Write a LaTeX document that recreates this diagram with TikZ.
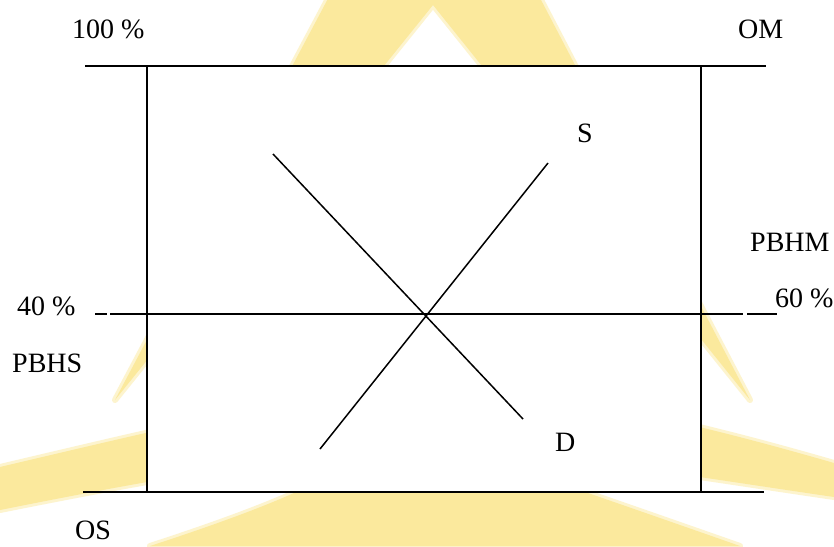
\documentclass[tikz,border=0pt]{standalone}
\usepackage{fontspec}
\setmainfont{Liberation Serif}
\definecolor{wm}{RGB}{251,233,157}
\definecolor{wmsoft}{RGB}{253,244,206}
\begin{document}
\begin{tikzpicture}[x=1pt,y=-1pt,
  lbl/.style={inner sep=0pt, anchor=base west, font=\fontsize{28}{34}\selectfont},
  rule/.style={line width=2pt, line cap=butt},
  boxline/.style={line width=1.7pt},
  midline/.style={line width=1.5pt},
  curveline/.style={line width=1.5pt}]
\useasboundingbox (0,0) rectangle (834,546);
\fill[white] (0,0) rectangle (834,546);
% watermark
\begin{scope}
  \clip (0,0) rectangle (834,546);
  \begin{scope}[draw=wmsoft, line width=6pt, line join=round]
  \filldraw[fill=wm] (435,-203) -- (750,400) -- (433,5) -- (115,400) -- cycle;
  \filldraw[fill=wm] (0,467) .. controls (200,420) and (300,395) .. (420,392)
    .. controls (540,390) and (650,410) .. (834,463) -- (834,497)
    .. controls (650,470) and (540,450) .. (420,452)
    .. controls (300,455) and (200,470) .. (0,510) -- cycle;
  \filldraw[fill=wm] (150,546) .. controls (230,520) and (290,497) .. (320,480)
    -- (550,480) .. controls (600,497) and (680,525) .. (740,546) -- cycle;
  \end{scope}
  \fill[wm] (435,-203) -- (750,400) -- (433,5) -- (115,400) -- cycle;
  \fill[wm] (0,467) .. controls (200,420) and (300,395) .. (420,392)
    .. controls (540,390) and (650,410) .. (834,463) -- (834,497)
    .. controls (650,470) and (540,450) .. (420,452)
    .. controls (300,455) and (200,470) .. (0,510) -- cycle;
  \fill[wm] (150,546) .. controls (230,520) and (290,497) .. (320,480)
    -- (550,480) .. controls (600,497) and (680,525) .. (740,546) -- cycle;
\end{scope}
% box interior
\fill[white] (147,66) rectangle (701,492);
% coordinates
\coordinate (tl) at (85,66);
\coordinate (tr) at (766,66);
\coordinate (bl) at (83,492);
\coordinate (br) at (764,492);
\coordinate (lt) at (147,66);
\coordinate (lb) at (147,492);
\coordinate (rt) at (701,66);
\coordinate (rb) at (701,492);
\coordinate (m1) at (95,314);
\coordinate (m2) at (107,314);
\coordinate (m3) at (110,314);
\coordinate (m4) at (743,314);
\coordinate (m5) at (747,314);
\coordinate (m6) at (777,314);
\coordinate (d1) at (273,154);
\coordinate (d2) at (523,419);
\coordinate (s1) at (548,163);
\coordinate (s2) at (320,449);
% lines
\draw[rule] (tl) -- (tr);
\draw[rule] (bl) -- (br);
\draw[boxline] (lt) -- (lb);
\draw[boxline] (rt) -- (rb);
\draw[midline] (m1) -- (m2);
\draw[midline] (m3) -- (m4);
\draw[midline] (m5) -- (m6);
\draw[curveline] (d1) -- (d2);
\draw[curveline] (s1) -- (s2);
% labels
\node[lbl] (p100) at (72,38) {100 \%};
\node[lbl] (om) at (738,38) {OM};
\node[lbl] (s) at (577,142) {S};
\node[lbl] (pbhm) at (750,251) {PBHM};
\node[lbl] (p40) at (17,315) {40 \%};
\node[lbl] (p60) at (775,307) {60 \%};
\node[lbl] (pbhs) at (12,372) {PBHS};
\node[lbl] (d) at (555,451) {D};
\node[lbl] (os) at (75,539) {OS};
\end{tikzpicture}
\end{document}
